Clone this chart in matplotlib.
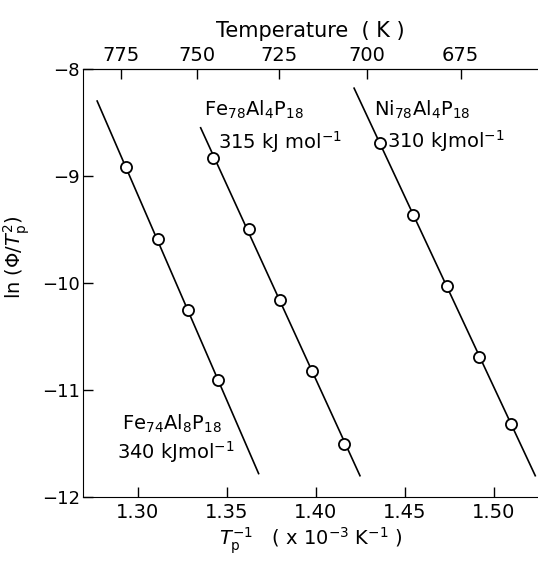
import numpy as np
import matplotlib
matplotlib.use("Agg")
import matplotlib.pyplot as plt

plt.rcParams['font.family'] = ['DejaVu Sans']
plt.rcParams['mathtext.default'] = 'regular'

# Kissinger data: x = 1/Tp (1e-3 K^-1), y = ln(phi/Tp^2)
fe74_x = [1.293, 1.311, 1.328, 1.345]
fe74_y = [-8.92, -9.59, -10.25, -10.91]
fe78_x = [1.342, 1.3625, 1.380, 1.398, 1.416]
fe78_y = [-8.83, -9.50, -10.16, -10.82, -11.50]
ni78_x = [1.436, 1.4545, 1.474, 1.492, 1.510]
ni78_y = [-8.69, -9.36, -10.03, -10.69, -11.32]

# vertical extent of each fitted line (ln units)
fe74_span = [-8.30, -11.78]
fe78_span = [-8.55, -11.80]
ni78_span = [-8.18, -11.80]

temp_ticks = [775, 750, 725, 700, 675]

fig = plt.figure(figsize=(5.38, 5.63), dpi=100)
ax = fig.add_axes([0.154, 0.117, 0.846, 0.7606])

for xs, ys, span in [(fe74_x, fe74_y, fe74_span),
                     (fe78_x, fe78_y, fe78_span),
                     (ni78_x, ni78_y, ni78_span)]:
    m, c = np.polyfit(xs, ys, 1)
    yl = np.array(span)
    ax.plot((yl - c) / m, yl, color='black', lw=1.2)
    ax.plot(xs, ys, 'o', mfc='white', mec='black', mew=1.3, ms=8)

ax.set_xlim(1.269, 1.525)
ax.set_ylim(-12, -8)
ax.set_xticks([1.30, 1.35, 1.40, 1.45, 1.50])
ax.set_xticklabels(['1.30', '1.35', '1.40', '1.45', '1.50'])
ax.set_yticks([-8, -9, -10, -11, -12])
ax.set_yticklabels(['\u22128', '\u22129', '\u221210', '\u221211', '\u221212'])
ax.spines['right'].set_visible(False)
ax.tick_params(direction='in', length=7, width=1, labelsize=14, pad=4)
ax.tick_params(axis='y', labelsize=13, pad=2)

ax.set_xlabel(r'$\mathit{T}_{\rm p}^{-1}$   ( x 10$^{-3}$ K$^{-1}$ )', fontsize=14, labelpad=3)
ax.set_ylabel(r'ln ($\Phi$/$\mathit{T}_{\rm p}^{2}$)', fontsize=14)
ax.yaxis.set_label_coords(-0.112, 0.56)

sec = ax.secondary_xaxis('top', functions=(lambda x: 1000.0 / x, lambda t: 1000.0 / t))
sec.set_xticks(temp_ticks)
sec.tick_params(direction='in', length=7, width=1, labelsize=14, pad=3)
sec.set_xlabel('Temperature  ( K )', fontsize=15, labelpad=6)

tkw = dict(fontsize=14, color='black')
ax.text(1.337, -8.38, r'Fe$_{78}$Al$_4$P$_{18}$', va='center', ha='left', **tkw)
ax.text(1.345, -8.68, r'315 kJ mol$^{-1}$', va='center', ha='left', **tkw)
ax.text(1.433, -8.38, r'Ni$_{78}$Al$_4$P$_{18}$', va='center', ha='left', **tkw)
ax.text(1.440, -8.67, r'310 kJmol$^{-1}$', va='center', ha='left', **tkw)
ax.text(1.291, -11.32, r'Fe$_{74}$Al$_8$P$_{18}$', va='center', ha='left', **tkw)
ax.text(1.288, -11.58, r'340 kJmol$^{-1}$', va='center', ha='left', **tkw)

fig.savefig('out.png', dpi=100)
